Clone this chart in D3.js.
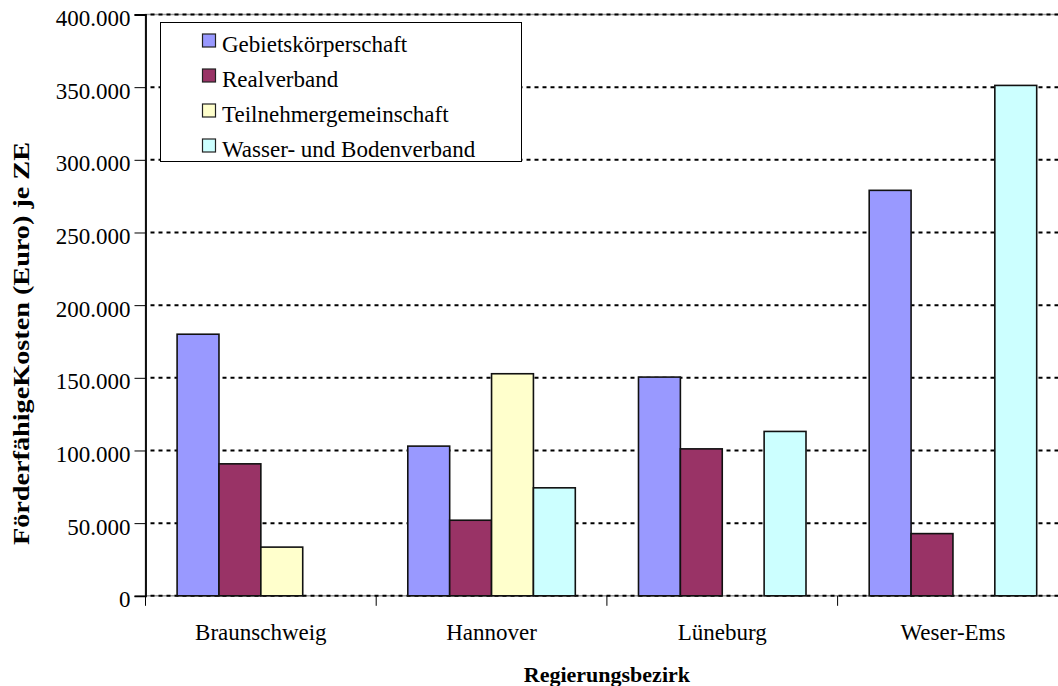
<!DOCTYPE html>
<html>
<head>
<meta charset="utf-8">
<script src="https://cdn.jsdelivr.net/npm/d3@7"></script>
<style>
  html, body { margin: 0; padding: 0; background: #fff; }
  svg { display: block; }
  text { font-family: "Liberation Serif", "Times New Roman", serif; fill: #000; }
</style>
</head>
<body>
<svg id="chart" width="1058" height="686"></svg>
<script>
// ---- data ----
const categories = ["Braunschweig", "Hannover", "Lüneburg", "Weser-Ems"];
const seriesNames = ["Gebietskörperschaft", "Realverband", "Teilnehmergemeinschaft", "Wasser- und Bodenverband"];
const gebietskoerperschaft = [180000, 103000, 150500, 279000];
const realverband = [90800, 52000, 101100, 42800];
const teilnehmergemeinschaft = [33500, 152800, 0, 0];
const wasserUndBodenverband = [0, 74300, 113100, 351200];
const yTicks = [0, 50000, 100000, 150000, 200000, 250000, 300000, 350000, 400000];
const colors = ["#9999FF", "#993366", "#FFFFCC", "#CCFFFF"];
const yTitle = "FörderfähigeKosten (Euro) je ZE";
const xTitle = "Regierungsbezirk";

const seriesValues = [gebietskoerperschaft, realverband, teilnehmergemeinschaft, wasserUndBodenverband];

// ---- layout ----
const svg = d3.select("#chart");
const pLeft = 145.5, pTop = 14.5, pBottom = 595.8, catW = 230.7;
const pRight = pLeft + catW * categories.length;

const x = d3.scaleBand().domain(categories).range([pLeft, pRight]).paddingInner(0).paddingOuter(0);
const xs = d3.scaleBand().domain(seriesNames).range([31.6, catW - 31.6]).padding(0);
const y = d3.scaleLinear().domain([0, 400000]).range([pBottom, pTop]);

const de = d3.formatLocale({decimal: ",", thousands: ".", grouping: [3], currency: ["", " €"]});
const fmt = de.format(",");

svg.append("rect").attr("width", 1058).attr("height", 686).attr("fill", "#fff");

// plot border (grey)
svg.append("rect")
  .attr("x", pLeft).attr("y", pTop)
  .attr("width", pRight - pLeft).attr("height", pBottom - pTop)
  .attr("fill", "none").attr("stroke", "#999").attr("stroke-width", 1.5);

// gridlines
svg.append("g").selectAll("line").data(yTicks).join("line")
  .attr("x1", pLeft + 5).attr("x2", pRight)
  .attr("y1", d => y(d)).attr("y2", d => y(d))
  .attr("stroke", "#000").attr("stroke-width", 2)
  .attr("stroke-dasharray", "4,4");

// bars
const rows = [];
categories.forEach((c, ci) => {
  seriesNames.forEach((s, si) => {
    const v = seriesValues[si][ci];
    if (v > 0) rows.push({c, s, si, v});
  });
});
svg.append("g").selectAll("rect").data(rows).join("rect")
  .attr("x", d => x(d.c) + xs(d.s))
  .attr("y", d => y(d.v))
  .attr("width", xs.bandwidth())
  .attr("height", d => y(0) - y(d.v))
  .attr("fill", d => colors[d.si])
  .attr("stroke", "#111").attr("stroke-width", 1.6);

// y axis
const yAxis = d3.axisLeft(y).tickValues(yTicks).tickFormat(fmt).tickSize(11).tickPadding(4);
const gy = svg.append("g").attr("transform", `translate(${pLeft},0)`).call(yAxis);
gy.select(".domain").attr("stroke", "#000").attr("stroke-width", 1.8);
gy.selectAll(".tick line").attr("stroke", "#000").attr("stroke-width", 1);
gy.selectAll(".tick text")
  .attr("font-family", "Liberation Serif, Times New Roman, serif")
  .attr("font-size", 23).attr("dy", 11).attr("fill", "#000");

// x axis ticks at category boundaries
const bounds = d3.range(categories.length + 1).map(i => pLeft + i * catW);
svg.append("g").selectAll("line").data(bounds).join("line")
  .attr("x1", d => d).attr("x2", d => d)
  .attr("y1", pBottom).attr("y2", pBottom + 10)
  .attr("stroke", "#000").attr("stroke-width", 1);

// category labels
svg.append("g").selectAll("text").data(categories).join("text")
  .attr("x", d => x(d) + x.bandwidth() / 2)
  .attr("y", 640)
  .attr("text-anchor", "middle")
  .attr("font-size", 23)
  .text(d => d);

// axis titles
svg.append("text")
  .attr("x", (pLeft + pRight) / 2).attr("y", 682)
  .attr("text-anchor", "middle")
  .attr("font-size", 22).attr("font-weight", "bold")
  .text(xTitle);

svg.append("text")
  .attr("transform", "translate(29,343.5) rotate(-90)")
  .attr("text-anchor", "middle")
  .attr("font-size", 24).attr("font-weight", "bold")
  .attr("textLength", 403).attr("lengthAdjust", "spacingAndGlyphs")
  .text(yTitle);

// legend
const lg = svg.append("g");
lg.append("rect")
  .attr("x", 160.5).attr("y", 22.5).attr("width", 361).attr("height", 139)
  .attr("fill", "#fff").attr("stroke", "#000").attr("stroke-width", 1);
const items = lg.selectAll("g.item").data(seriesNames).join("g").attr("class", "item")
  .attr("transform", (d, i) => `translate(0,${i * 35})`);
items.append("rect")
  .attr("x", 202.5).attr("y", 34).attr("width", 13).attr("height", 13)
  .attr("fill", (d, i) => colors[i]).attr("stroke", "#222").attr("stroke-width", 1.2);
items.append("text")
  .attr("x", 222).attr("y", 52)
  .attr("font-size", 23)
  .text(d => d);
</script>
</body>
</html>
